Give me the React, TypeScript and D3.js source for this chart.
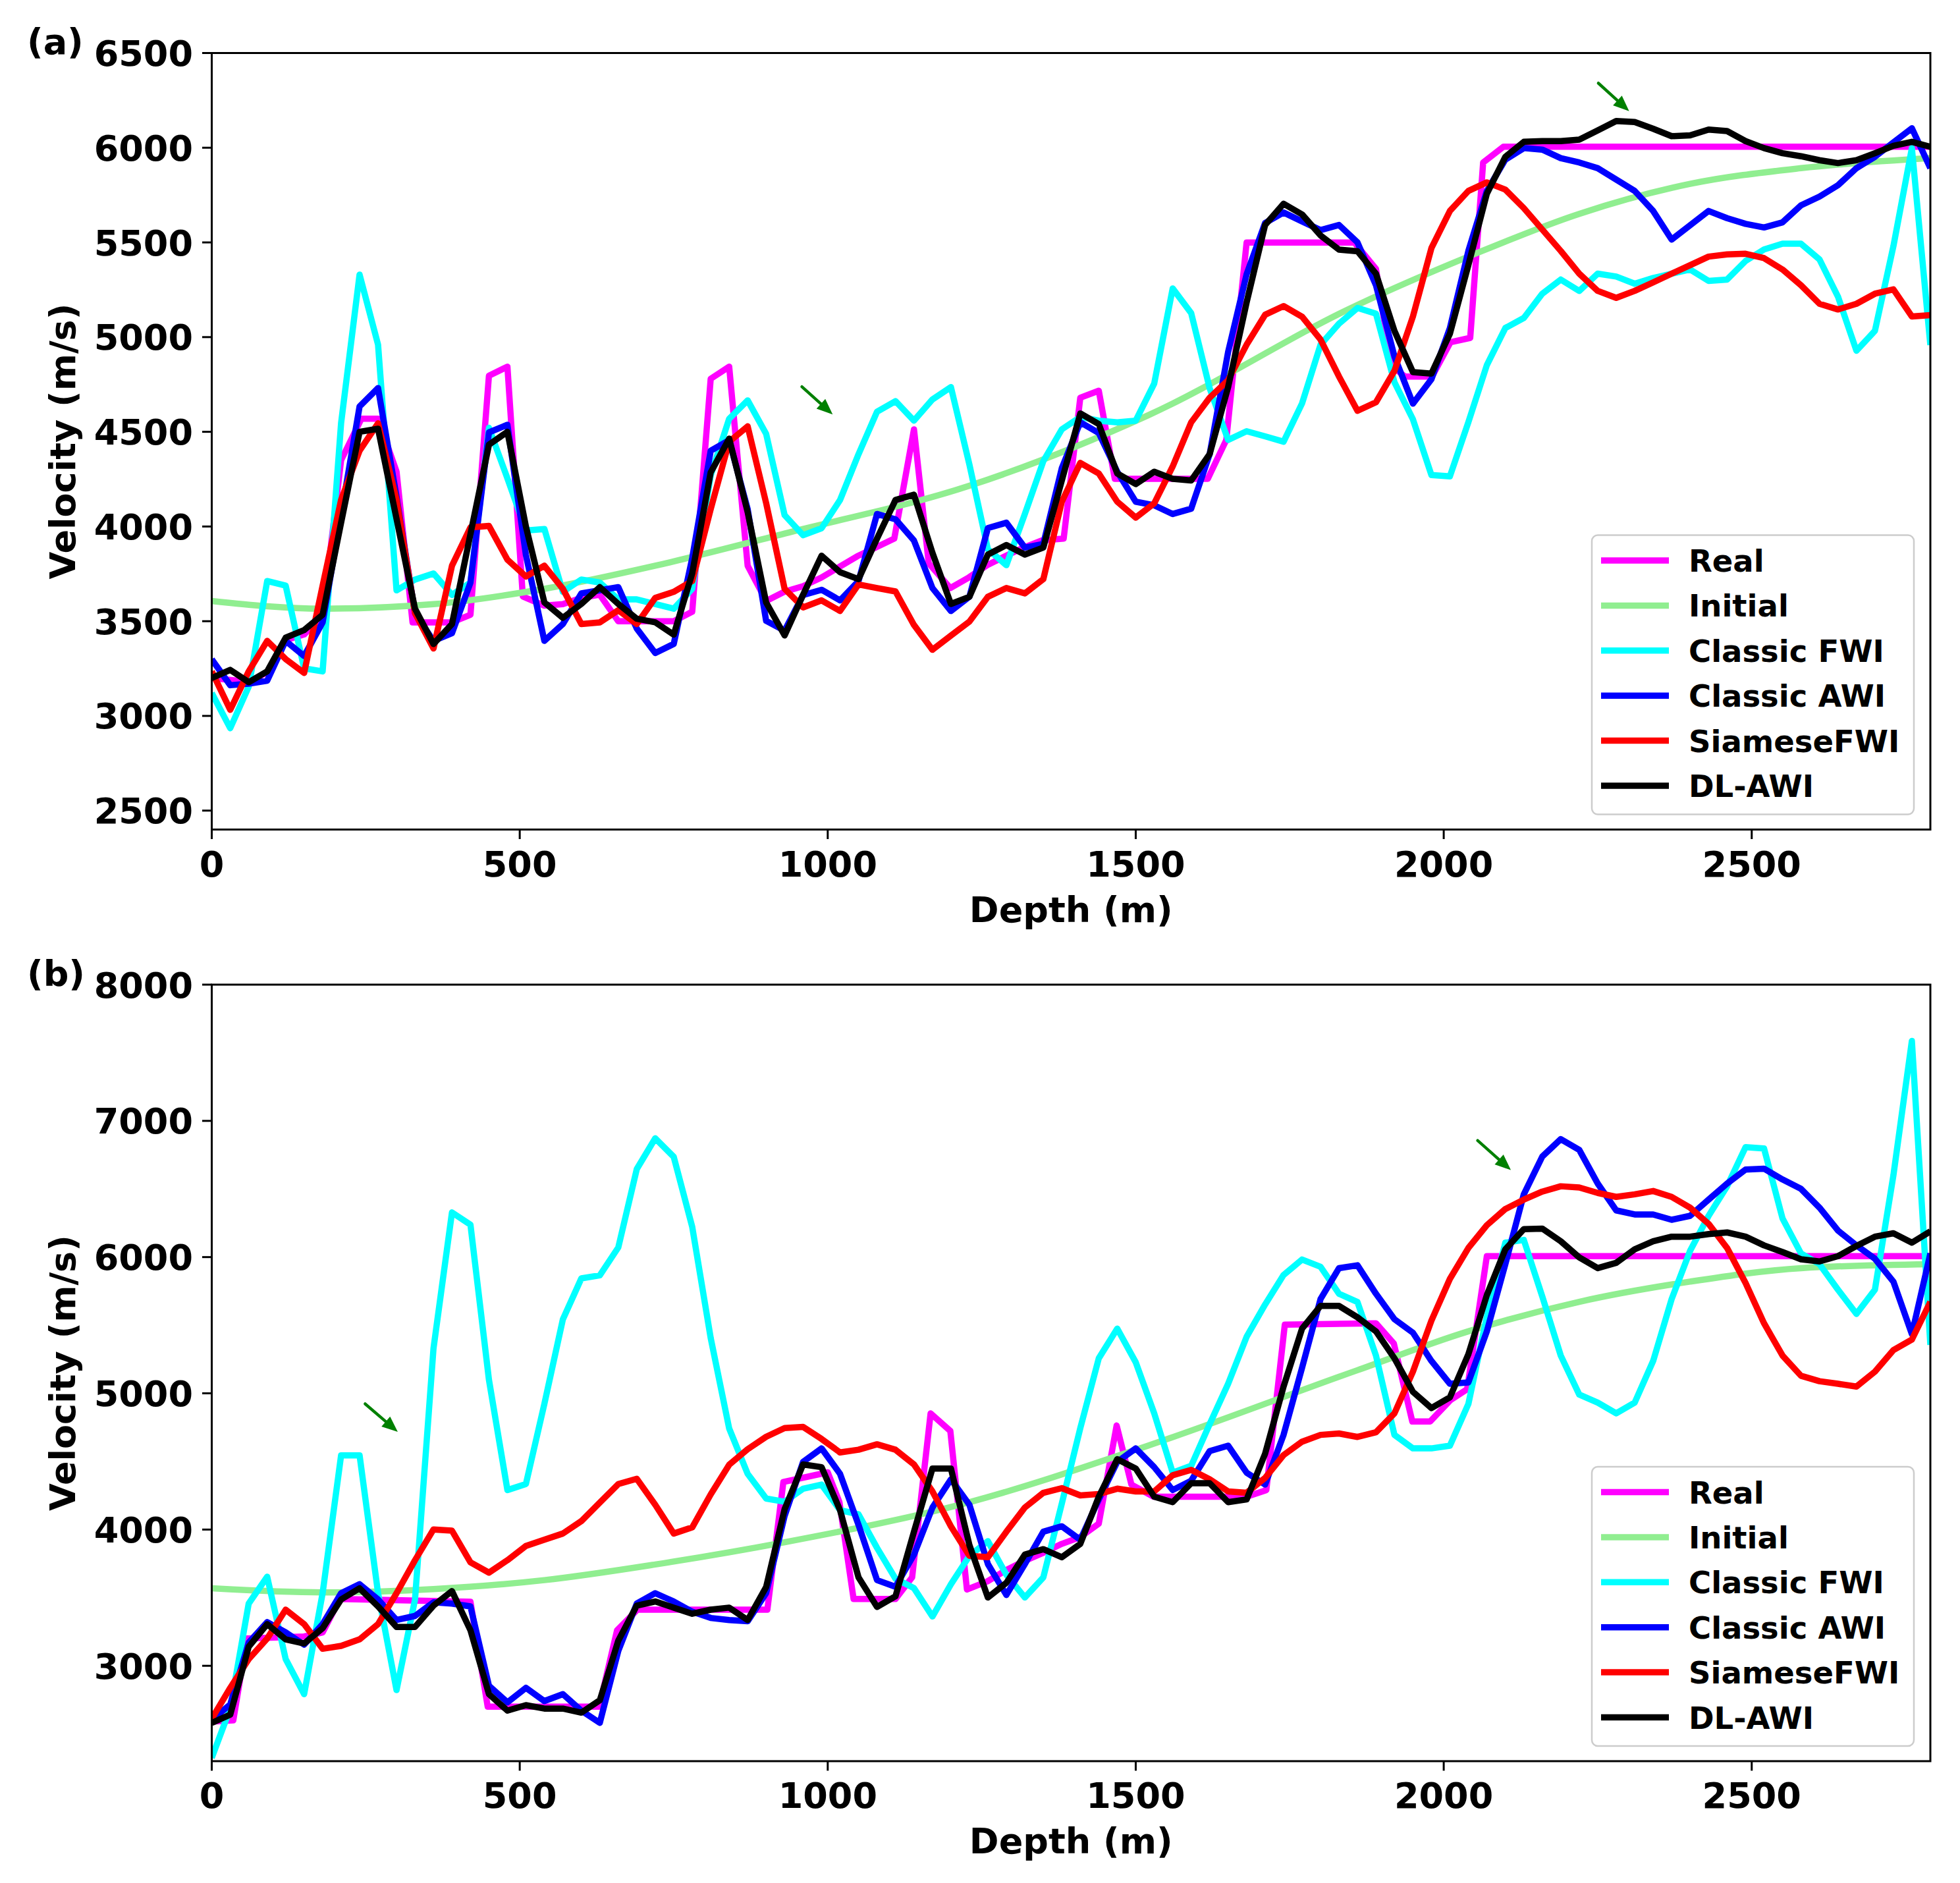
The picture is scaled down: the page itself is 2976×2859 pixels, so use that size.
import * as d3 from 'd3'

const W = 2976
const H = 2859
const FONT = 'DejaVu Sans'

// sampling grid of the profiles (m)
const DEPTH = d3.range(0, 2791, 30)

const NAMES = ['Real', 'Initial', 'Classic FWI', 'Classic AWI', 'SiameseFWI', 'DL-AWI']
const COLORS = ['#ff00ff', '#90ee90', '#00ffff', '#0000ff', '#ff0000', '#000000']

const X_TICKS = [0, 500, 1000, 1500, 2000, 2500]
const A_Y_TICKS = [2500, 3000, 3500, 4000, 4500, 5000, 5500, 6000, 6500]
const B_Y_TICKS = [3000, 4000, 5000, 6000, 7000, 8000]

// ---- panel (a) ----
const A_REAL: [number, number][] = [
    [0, 3200], [60, 3180], [90, 3230], [120, 3400], [150, 3430], [180, 3530], [210, 4350], [243, 4569],
    [270, 4569], [300, 4290], [326, 3494], [390, 3494], [420, 3534], [450, 4796], [480, 4844], [505, 3631],
    [540, 3582], [570, 3590], [600, 3623], [630, 3640], [660, 3500], [750, 3500], [780, 3550], [810, 4780],
    [840, 4844], [870, 3793], [900, 3607], [930, 3656], [960, 3685], [990, 3731], [1019, 3787], [1048, 3843],
    [1078, 3889], [1108, 3936], [1140, 4513], [1164, 3805], [1199, 3675], [1229, 3731], [1259, 3796],
    [1288, 3843], [1318, 3889], [1348, 3927], [1383, 3936], [1410, 4680], [1440, 4717], [1466, 4252],
    [1617, 4252], [1647, 4457], [1680, 5499], [1855, 5499], [1890, 5360], [1915, 4850], [1937, 4792],
    [1981, 4792], [2011, 4973], [2043, 4996], [2064, 5922], [2097, 6005], [2790, 6005]
]
const A_INITIAL: [number, number][] = [
    [0, 3607], [180, 3566], [360, 3590], [540, 3671], [720, 3793], [930, 3963], [1230, 4215],
    [1520, 4587], [1860, 5170], [2040, 5425], [2220, 5651], [2400, 5809], [2580, 5892], [2790, 5945]
]
const A_FWI = [
    3121, 2935, 3154, 3712, 3688, 3251, 3235, 4546, 5330, 4960,
    3663, 3720, 3752, 3639, 3704, 4521, 4254, 3979, 3987, 3655,
    3720, 3704, 3615, 3615, 3591, 3566, 3671, 4270, 4569, 4666,
    4489, 4060, 3954, 3991, 4140, 4382, 4606, 4662, 4559, 4671,
    4736, 4327, 3880, 3796, 4066, 4345, 4513, 4578, 4559, 4550,
    4559, 4755, 5257, 5127, 4730, 4457, 4503, 4476, 4448, 4650,
    4960, 5071, 5154, 5124, 4762, 4566, 4272, 4265, 4551, 4852,
    5048, 5101, 5229, 5304, 5244, 5335, 5320, 5282, 5312, 5335,
    5357, 5297, 5304, 5402, 5463, 5493, 5493, 5410, 5214, 4928,
    5033, 5480, 5998, 4958
]
const A_AWI = [
    3299, 3162, 3170, 3186, 3396, 3316, 3494, 4060, 4634, 4731,
    4157, 3542, 3396, 3437, 3704, 4497, 4537, 3850, 3396, 3485,
    3647, 3663, 3680, 3461, 3332, 3380, 3833, 4400, 4456, 4092,
    3502, 3450, 3638, 3666, 3610, 3712, 4066, 4038, 3926, 3675,
    3554, 3629, 3992, 4020, 3889, 3908, 4308, 4550, 4494, 4289,
    4131, 4112, 4066, 4094, 4382, 4922, 5332, 5602, 5658, 5611,
    5565, 5592, 5500, 5274, 4898, 4649, 4777, 5048, 5455, 5772,
    5937, 5998, 5990, 5945, 5922, 5892, 5832, 5772, 5666, 5515,
    5591, 5666, 5628, 5598, 5579, 5606, 5696, 5742, 5802, 5892,
    5952, 6028, 6103, 5892
]
const A_SIAMESE = [
    3235, 3032, 3235, 3396, 3300, 3227, 3688, 4141, 4400, 4545,
    4141, 3542, 3356, 3793, 3995, 4003, 3825, 3736, 3793, 3671,
    3485, 3494, 3558, 3485, 3623, 3655, 3712, 4092, 4448, 4529,
    4124, 3671, 3573, 3610, 3554, 3694, 3675, 3657, 3480, 3349,
    3424, 3498, 3629, 3675, 3647, 3722, 4131, 4336, 4280, 4131,
    4047, 4122, 4317, 4550, 4680, 4773, 4960, 5118, 5164, 5108,
    4987, 4792, 4611, 4656, 4822, 5109, 5470, 5666, 5772, 5817,
    5779, 5681, 5568, 5455, 5335, 5244, 5207, 5244, 5289, 5335,
    5380, 5425, 5437, 5440, 5417, 5357, 5274, 5176, 5146, 5176,
    5229, 5252, 5109, 5116
]
const A_DLAWI = [
    3200, 3243, 3178, 3235, 3413, 3453, 3534, 4020, 4500, 4516,
    4040, 3566, 3380, 3485, 3960, 4432, 4500, 4000, 3599, 3518,
    3591, 3680, 3591, 3513, 3494, 3429, 3752, 4286, 4464, 4076,
    3599, 3425, 3640, 3846, 3759, 3722, 3936, 4140, 4168, 3861,
    3591, 3629, 3852, 3902, 3852, 3889, 4243, 4597, 4541, 4280,
    4224, 4289, 4252, 4243, 4382, 4736, 5183, 5592, 5704, 5648,
    5537, 5462, 5453, 5335, 5033, 4815, 4807, 5018, 5380, 5757,
    5952, 6031, 6035, 6035, 6043, 6091, 6141, 6136, 6100, 6061,
    6065, 6096, 6088, 6035, 5998, 5971, 5955, 5934, 5919, 5934,
    5971, 6010, 6031, 6005
]
const A_ARROWS: [number, number, number, number][] = [
    [958, 4738, 1008, 4592],
    [2251, 6341, 2301, 6193]
]

// ---- panel (b) ----
const B_REAL: [number, number][] = [
    [0, 2590], [35, 2600], [57, 3200], [150, 3215], [180, 3245], [208, 3490], [420, 3470], [448, 2700],
    [629, 2700], [658, 3260], [691, 3412], [902, 3412], [928, 4349], [1000, 4420], [1019, 4201],
    [1042, 3490], [1110, 3490], [1137, 3649], [1167, 4853], [1199, 4724], [1226, 3560], [1259, 3619],
    [1288, 3698], [1318, 3767], [1348, 3826], [1380, 3895], [1410, 3945], [1440, 4043], [1469, 4764],
    [1493, 4330], [1529, 4241], [1680, 4241], [1712, 4290], [1742, 5504], [1890, 5514], [1919, 5366],
    [1949, 4793], [1978, 4793], [2011, 4951], [2038, 5030], [2070, 6007], [2790, 6007]
]
const B_INITIAL: [number, number][] = [
    [0, 3569], [180, 3539], [360, 3563], [540, 3629], [720, 3744], [930, 3907], [1230, 4201],
    [1520, 4616], [1860, 5170], [2040, 5455], [2220, 5672], [2400, 5820], [2580, 5919], [2790, 5948]
]
const B_FWI = [
    2324, 2686, 3457, 3654, 3049, 2792, 3533, 4545, 4545, 3533,
    2822, 3487, 5330, 6328, 6238, 5100, 4290, 4334, 4923, 5543,
    5844, 5866, 6071, 6646, 6872, 6736, 6222, 5406, 4742, 4409,
    4228, 4204, 4300, 4330, 4142, 4112, 3866, 3639, 3570, 3362,
    3599, 3807, 3915, 3668, 3501, 3649, 4191, 4744, 5257, 5475,
    5228, 4853, 4418, 4468, 4774, 5070, 5415, 5652, 5869, 5982,
    5929, 5731, 5670, 5277, 4695, 4596, 4596, 4616, 4922, 5563,
    6106, 6126, 5711, 5277, 4991, 4932, 4853, 4932, 5238, 5692,
    6047, 6303, 6520, 6807, 6797, 6284, 6027, 5948, 5761, 5583,
    5761, 6600, 7587, 5356
]
const B_AWI = [
    2600, 2717, 3170, 3321, 3246, 3155, 3306, 3533, 3599, 3487,
    3336, 3366, 3466, 3457, 3436, 2853, 2732, 2838, 2741, 2792,
    2671, 2581, 3110, 3457, 3533, 3472, 3397, 3351, 3336, 3327,
    3533, 4100, 4497, 4596, 4409, 4034, 3629, 3580, 3816, 4162,
    4369, 4182, 3747, 3520, 3747, 3984, 4024, 3925, 4221, 4497,
    4596, 4458, 4290, 4359, 4576, 4616, 4418, 4330, 4695, 5188,
    5692, 5919, 5940, 5731, 5544, 5445, 5238, 5070, 5080, 5455,
    5948, 6461, 6738, 6866, 6787, 6540, 6343, 6313, 6313, 6274,
    6303, 6422, 6540, 6643, 6649, 6570, 6501, 6363, 6195, 6086,
    5988, 5820, 5435, 6027
]
const B_SIAMESE = [
    2611, 2838, 3049, 3200, 3412, 3306, 3125, 3146, 3194, 3306,
    3533, 3775, 4001, 3992, 3759, 3684, 3775, 3880, 3926, 3971,
    4062, 4198, 4334, 4373, 4182, 3971, 4016, 4258, 4476, 4590,
    4681, 4745, 4754, 4665, 4566, 4586, 4626, 4586, 4478, 4280,
    4024, 3807, 3797, 3984, 4162, 4270, 4304, 4251, 4261, 4300,
    4280, 4280, 4399, 4438, 4369, 4280, 4270, 4379, 4547, 4645,
    4695, 4705, 4680, 4714, 4853, 5159, 5534, 5840, 6067, 6234,
    6353, 6422, 6481, 6520, 6511, 6471, 6442, 6461, 6485, 6442,
    6363, 6244, 6067, 5810, 5514, 5277, 5129, 5089, 5070, 5050,
    5159, 5317, 5395, 5672
]
const B_DLAWI = [
    2581, 2641, 3140, 3306, 3194, 3164, 3276, 3487, 3569, 3436,
    3285, 3285, 3442, 3548, 3261, 2792, 2671, 2711, 2686, 2686,
    2656, 2747, 3185, 3442, 3472, 3427, 3382, 3412, 3427, 3336,
    3578, 4150, 4478, 4458, 4142, 3649, 3432, 3510, 3984, 4448,
    4448, 3886, 3501, 3609, 3816, 3856, 3797, 3895, 4241, 4517,
    4448, 4241, 4201, 4340, 4340, 4201, 4221, 4557, 5050, 5475,
    5642, 5642, 5558, 5455, 5257, 5011, 4892, 4971, 5287, 5721,
    6057, 6205, 6209, 6116, 5998, 5919, 5958, 6057, 6116, 6150,
    6150, 6169, 6181, 6150, 6086, 6037, 5984, 5968, 6007, 6082,
    6150, 6175, 6106, 6189
]
const B_ARROWS: [number, number, number, number][] = [
    [249, 4923, 302, 4717],
    [2055, 6856, 2109, 6639]
]

const LEFT = 321.5
const RIGHT = 2931
const PLOT_H = 1179
const LW = 9.5

interface PanelProps {
    tag: string
    top: number
    yDomain: [number, number]
    yTicks: number[]
    real: [number, number][]
    initial: [number, number][]
    fwi: number[]
    awi: number[]
    siamese: number[]
    dlawi: number[]
    arrows: [number, number, number, number][]
}

function Panel({ tag, top, yDomain, yTicks, real, initial, fwi, awi, siamese, dlawi, arrows }: PanelProps) {
    const bottom = top + PLOT_H
    const x = d3.scaleLinear().domain([0, 2790]).range([LEFT, RIGHT])
    const y = d3.scaleLinear().domain(yDomain).range([bottom, top])

    const pairLine = d3.line<[number, number]>().x(d => x(d[0])).y(d => y(d[1]))
    const smoothLine = d3.line<[number, number]>().x(d => x(d[0])).y(d => y(d[1])).curve(d3.curveMonotoneX)
    const profile = (vals: number[]) => pairLine(vals.map((v, i) => [DEPTH[i], v] as [number, number]))

    const paths = [
        pairLine(real),
        smoothLine(initial),
        profile(fwi),
        profile(awi),
        profile(siamese),
        profile(dlawi)
    ]

    const clipId = `clip-${tag}`
    const midY = (top + bottom) / 2
    const midX = (LEFT + RIGHT) / 2

    // legend box
    const legW = 489
    const legH = 424
    const legX = 2417
    const legY = bottom - 23 - legH
    const rowGap = 68.4

    return (
        <g>
            <defs>
                <clipPath id={clipId}>
                    <rect x={LEFT} y={top} width={RIGHT - LEFT} height={PLOT_H} />
                </clipPath>
            </defs>

            <g clipPath={`url(#${clipId})`}>
                {paths.map((p, i) => (
                    <path key={NAMES[i]} d={p ?? ''} fill="none" stroke={COLORS[i]}
                        strokeWidth={LW} strokeLinejoin="round" strokeLinecap="butt" />
                ))}
            </g>

            {arrows.map(([d0, v0, d1, v1], i) => {
                const x0 = x(d0), y0 = y(v0), x1 = x(d1), y1 = y(v1)
                const ang = Math.atan2(y1 - y0, x1 - x0)
                const hl = 24, hw = 10
                const bx = x1 - hl * Math.cos(ang), by = y1 - hl * Math.sin(ang)
                const px = -Math.sin(ang) * hw, py = Math.cos(ang) * hw
                return (
                    <g key={i}>
                        <line x1={x0} y1={y0} x2={bx} y2={by} stroke="#008000" strokeWidth={4.5} strokeLinecap="round" />
                        <path d={`M${x1},${y1}L${bx + px},${by + py}L${bx - px},${by - py}Z`} fill="#008000" />
                    </g>
                )
            })}

            {/* frame */}
            <rect x={LEFT} y={top} width={RIGHT - LEFT} height={PLOT_H} fill="none" stroke="#000" strokeWidth={3} />

            {/* y axis */}
            {yTicks.map(t => (
                <g key={t}>
                    <line x1={LEFT - 14.5} x2={LEFT} y1={y(t)} y2={y(t)} stroke="#000" strokeWidth={3} />
                    <text x={293} y={y(t) + 19.5} textAnchor="end" fontSize={54} fontWeight="bold" fontFamily={FONT}>{t}</text>
                </g>
            ))}

            {/* x axis */}
            {X_TICKS.map(t => (
                <g key={t}>
                    <line x1={x(t)} x2={x(t)} y1={bottom} y2={bottom + 14.5} stroke="#000" strokeWidth={3} />
                    <text x={x(t)} y={bottom + 71} textAnchor="middle" fontSize={54} fontWeight="bold" fontFamily={FONT}>{t}</text>
                </g>
            ))}

            <text x={midX} y={bottom + 140} textAnchor="middle" fontSize={54} fontWeight="bold" fontFamily={FONT}>Depth (m)</text>
            <text transform={`translate(114,${midY}) rotate(-90)`} textAnchor="middle" fontSize={54} fontWeight="bold" fontFamily={FONT}>Velocity (m/s)</text>
            <text x={41} y={top + 1.5} fontSize={54} fontWeight="bold" fontFamily={FONT}>{`(${tag})`}</text>

            {/* legend */}
            <rect x={legX} y={legY} width={legW} height={legH} rx={9} ry={9} fill="#fff" fillOpacity={0.8} stroke="#cccccc" strokeWidth={2.5} />
            {NAMES.map((n, i) => {
                const cy = legY + 38.5 + i * rowGap
                return (
                    <g key={n}>
                        <line x1={legX + 14} x2={legX + 117} y1={cy} y2={cy} stroke={COLORS[i]} strokeWidth={LW} />
                        <text x={legX + 147} y={cy + 17} fontSize={46.5} fontWeight="bold" fontFamily={FONT}>{n}</text>
                    </g>
                )
            })}
        </g>
    )
}

export default function App() {
    return (
        <div style={{ position: 'absolute', left: 0, top: 0 }}>
            <svg width={W} height={H} viewBox={`0 0 ${W} ${H}`} style={{ display: 'block', background: '#fff' }}>
                <rect width={W} height={H} fill="#fff" />
                <Panel tag="a" top={80.5} yDomain={[2400, 6500]} yTicks={A_Y_TICKS}
                    real={A_REAL} initial={A_INITIAL} fwi={A_FWI} awi={A_AWI}
                    siamese={A_SIAMESE} dlawi={A_DLAWI} arrows={A_ARROWS} />
                <Panel tag="b" top={1495} yDomain={[2300, 8000]} yTicks={B_Y_TICKS}
                    real={B_REAL} initial={B_INITIAL} fwi={B_FWI} awi={B_AWI}
                    siamese={B_SIAMESE} dlawi={B_DLAWI} arrows={B_ARROWS} />
            </svg>
        </div>
    )
}
